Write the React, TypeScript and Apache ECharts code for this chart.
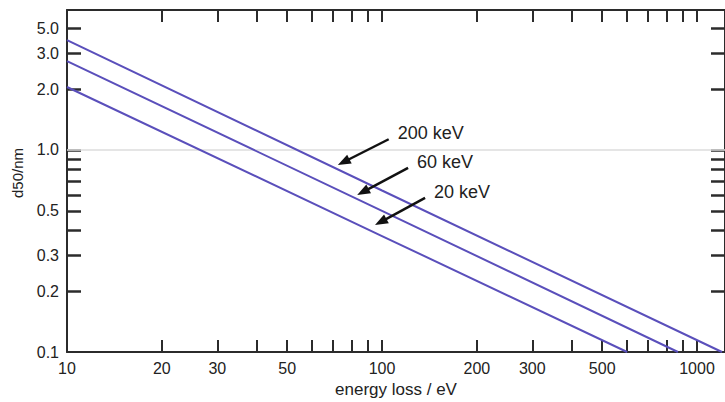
import React, { useEffect, useRef } from "react";
import * as echarts from "echarts";

// Straight lines on log-log axes: median depth d50 vs. energy loss
const energy200 = [10, 100, 1200];
const d50At200keV = [3.5, 0.63, 0.1];
const energy60 = [10, 100, 870];
const d50At60keV = [2.75, 0.5, 0.1];
const energy20 = [10, 100, 600];
const d50At20keV = [2.05, 0.375, 0.1];

const xLabelValues = [10, 20, 30, 50, 100, 200, 300, 500, 1000];
const xTickValues = [20, 30, 40, 50, 60, 70, 80, 90, 100, 200, 300, 400, 500, 600, 700, 800, 900, 1000];
const yLabelValues = [0.1, 0.2, 0.3, 0.5, 1, 2, 3, 4];
const yLabelTexts = ["0.1", "0.2", "0.3", "0.5", "1.0", "2.0", "3.0", "5.0"];
const yTickValues = [0.2, 0.3, 0.4, 0.5, 0.6, 0.7, 0.8, 0.9, 1, 2, 3, 4];

// Arrow annotations: label, tail (x, y) and head (x, y) in data units
const arrowLabels = ["200 keV", "60 keV", "20 keV"];
const arrowTails = [[105, 1.13], [121, 0.815], [137, 0.579]];
const arrowHeads = [[72.4, 0.843], [83.4, 0.599], [95, 0.425]];

const FONT = "'Liberation Sans', Arial, Helvetica, sans-serif";
const LINE_COLOR = "#5a4fbb";
const INK = "#222";
const AXIS = "#2b2b2b";

function pairs(xs: number[], ys: number[]) {
  return xs.map((x, i) => [x, ys[i]]);
}

export default function App() {
  const ref = useRef<HTMLDivElement>(null);

  useEffect(() => {
    document.body.style.margin = "0";
    if (!ref.current) return;
    const chart = echarts.init(ref.current, null, { renderer: "svg" });

    const xBase = {
      type: "log" as const,
      logBase: 10,
      min: 10,
      max: 1227,
      gridIndex: 0,
      axisLine: { show: true, lineStyle: { color: AXIS, width: 2 } },
      axisTick: {
        show: true,
        inside: true,
        length: 12,
        customValues: xTickValues,
        lineStyle: { color: AXIS, width: 2 },
      },
      splitLine: { show: false },
      minorTick: { show: false },
    };
    const yBase = {
      type: "log" as const,
      logBase: 10,
      min: 0.1,
      max: 4.93,
      gridIndex: 0,
      axisLine: { show: true, lineStyle: { color: AXIS, width: 2 } },
      axisTick: {
        show: true,
        inside: true,
        length: 14,
        customValues: yTickValues,
        lineStyle: { color: AXIS, width: 2.5 },
      },
      splitLine: { show: false },
      minorTick: { show: false },
    };

    const lineSeries = (name: string, data: number[][], extra: any = {}) => ({
      name,
      type: "line",
      xAxisIndex: 0,
      yAxisIndex: 0,
      data,
      showSymbol: false,
      symbol: "none",
      lineStyle: { color: LINE_COLOR, width: 2 },
      z: 3,
      ...extra,
    });

    chart.setOption({
      animation: false,
      backgroundColor: "#ffffff",
      textStyle: { fontFamily: FONT },
      grid: { left: 67, right: 0, top: 10, bottom: 50, outerBoundsMode: "none", containLabel: false },
      xAxis: [
        {
          ...xBase,
          position: "bottom",
          name: "energy loss / eV",
          nameLocation: "middle",
          nameGap: 28,
          nameTextStyle: { fontFamily: FONT, fontSize: 17, color: INK },
          axisLabel: {
            show: true,
            margin: 8,
            customValues: xLabelValues,
            fontFamily: FONT,
            fontSize: 16,
            color: INK,
            formatter: (v: number) => String(Math.round(v)),
          },
        },
        {
          ...xBase,
          position: "top",
          axisLabel: { show: false },
        },
      ],
      yAxis: [
        {
          ...yBase,
          position: "left",
          name: "d50/nm",
          nameLocation: "middle",
          nameGap: 42,
          nameTextStyle: { fontFamily: FONT, fontSize: 15, color: INK, padding: [0, 0, 0, 16] },
          axisLabel: {
            show: true,
            margin: 8,
            customValues: yLabelValues,
            fontFamily: FONT,
            fontSize: 16,
            color: INK,
            formatter: (v: number) => {
              const i = yLabelValues.findIndex((t) => Math.abs(t - v) < t * 1e-3);
              return i >= 0 ? yLabelTexts[i] : "";
            },
          },
        },
        {
          ...yBase,
          position: "right",
          axisLabel: { show: false },
        },
      ],
      series: [
        lineSeries("200 keV", pairs(energy200, d50At200keV), {
          markLine: {
            silent: true,
            symbol: "none",
            label: { show: false },
            lineStyle: { color: "#dcdcdc", width: 1.5, type: "solid" },
            data: [{ yAxis: 1 }],
            z: 1,
          },
        }),
        lineSeries("60 keV", pairs(energy60, d50At60keV)),
        lineSeries("20 keV", pairs(energy20, d50At20keV)),
      ],
    });

    // Arrows and their labels, placed from data coordinates
    const toPx = (p: number[]) =>
      chart.convertToPixel({ xAxisIndex: 0, yAxisIndex: 0 }, p) as number[];
    const elements: any[] = [];
    arrowLabels.forEach((label, i) => {
      const [tx, ty] = toPx(arrowTails[i]);
      const [hx, hy] = toPx(arrowHeads[i]);
      const dx = hx - tx;
      const dy = hy - ty;
      const len = Math.hypot(dx, dy);
      const ux = dx / len;
      const uy = dy / len;
      const headLen = 13;
      const headHalf = 5;
      const bx = hx - ux * headLen;
      const by = hy - uy * headLen;
      elements.push({
        type: "line",
        shape: { x1: tx, y1: ty, x2: bx + ux * 2, y2: by + uy * 2 },
        style: { stroke: "#111", lineWidth: 2.5 },
        z: 10,
      });
      elements.push({
        type: "polygon",
        shape: {
          points: [
            [hx, hy],
            [bx - uy * headHalf, by + ux * headHalf],
            [bx + uy * headHalf, by - ux * headHalf],
          ],
        },
        style: { fill: "#111" },
        z: 10,
      });
      elements.push({
        type: "text",
        x: tx + 9,
        y: ty - 6,
        style: {
          text: label,
          fontFamily: FONT,
          fontSize: 18,
          fill: INK,
          textAlign: "left",
          textVerticalAlign: "middle",
        },
        z: 10,
      });
    });
    chart.setOption({ graphic: elements });

    return () => chart.dispose();
  }, []);

  return <div ref={ref} style={{ width: 725, height: 402 }} />;
}
